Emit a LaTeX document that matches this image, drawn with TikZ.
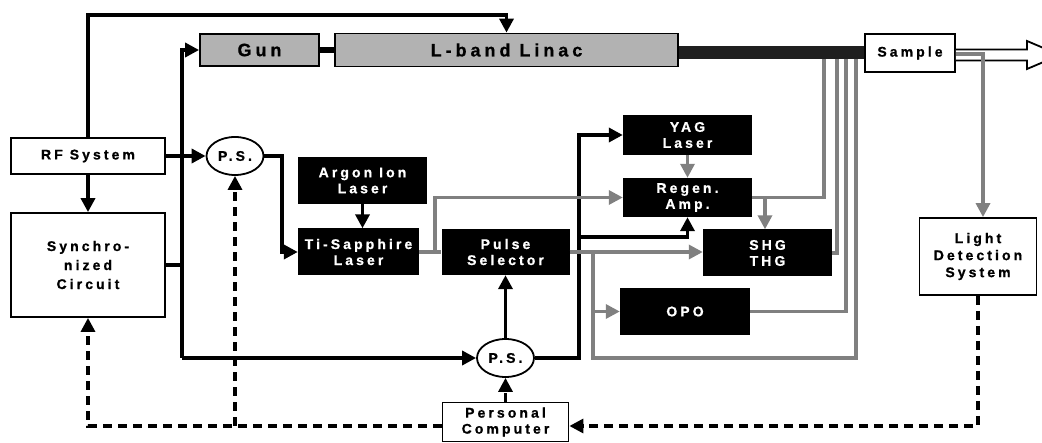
\documentclass[tikz,border=0pt]{standalone}
\usepackage{fontspec}
\setmainfont{Liberation Sans}
\newfontfamily\lblfont{Liberation Sans Bold}[LetterSpace=22, FakeBold=0.8]
\usetikzlibrary{arrows.meta,shapes.geometric,calc}
\begin{document}
\begin{tikzpicture}[x=1pt,y=-1pt,
  lbl/.style={font=\lblfont\fontsize{14}{16}\selectfont, align=center, inner sep=0pt},
  wbox/.style={lbl, draw=black, line width=1.8pt, fill=white},
  kbox/.style={lbl, fill=black, text=white},
  gbox/.style={lbl, draw=black, line width=1.8pt, fill=black!30, font=\lblfont\fontsize{18}{20}\selectfont},
  ell/.style={lbl, ellipse, draw=black, line width=1.8pt, fill=white, minimum width=57pt, minimum height=38pt},
  bl/.style={line width=3.6pt, black},
  gl/.style={line width=3.3pt, black!50},
  arr/.style={-{Triangle[length=14pt,width=14pt]}},
  dsh/.style={line width=3.2pt, black, dash pattern=on 9pt off 6pt},
]
\fill[white] (0,0) rectangle (1042,443);
\useasboundingbox (0,0) rectangle (1042,443);

% nodes
\node[gbox, minimum width=119pt, minimum height=32pt] (gun) at (259.5,50) {Gun};
\node[gbox, minimum width=343pt, minimum height=33pt] (linac) at (506.5,50) {L-band Linac};
\node[wbox, minimum width=90pt, minimum height=38pt] (sample) at (910,53) {Sample};
\node[wbox, minimum width=154pt, minimum height=36pt] (rf) at (88,156) {RF System};
\node[wbox, minimum width=154pt, minimum height=104pt, font=\lblfont\fontsize{14}{19}\selectfont] (sync) at (88,265) {Synchro-\\nized\\Circuit};
\node[ell] (ps1) at (235,156) {P.S.};
\node[kbox, minimum width=129pt, minimum height=47pt] (argon) at (362.5,180.5) {Argon Ion\\Laser};
\node[kbox, minimum width=121pt, minimum height=47pt] (ti) at (358.5,252) {Ti-Sapphire\\Laser};
\node[kbox, minimum width=128pt, minimum height=46pt] (pulse) at (505.5,252) {Pulse\\Selector};
\node[kbox, minimum width=129pt, minimum height=40pt] (yag) at (687.5,135) {YAG\\Laser};
\node[kbox, minimum width=129pt, minimum height=39pt] (regen) at (687.5,197.5) {Regen.\\Amp.};
\node[kbox, minimum width=129pt, minimum height=47pt] (shg) at (767.5,253) {SHG\\THG};
\node[kbox, minimum width=130pt, minimum height=47pt] (opo) at (685,311.5) {OPO};
\node[ell] (ps2) at (505.5,358) {P.S.};
\node[wbox, minimum width=126pt, minimum height=39pt] (pc) at (505.5,422) {Personal\\Computer};
\node[wbox, minimum width=117pt, minimum height=77pt, font=\lblfont\fontsize{14}{17}\selectfont] (ld) at (978,256.5) {Light\\Detection\\System};

% helper coordinates
\coordinate (top) at (88,15);
\coordinate (bus) at (182,0);
\coordinate (k1) at (282,0);
\coordinate (k2) at (435,0);
\coordinate (k3) at (593,358);
\coordinate (k4) at (765,0);
\coordinate (k5) at (579,0);
\coordinate (k6) at (983,0);
\coordinate (v1) at (824,55);
\coordinate (v2) at (837,55);
\coordinate (v3) at (846,55);
\coordinate (v4) at (856,55);
\coordinate (dy) at (0,426);

% black signal lines
\draw[bl,arr] (rf.north) |- (top) -| (linac.north);
\draw[bl,arr] (rf.south) -- (sync.north);
\draw[bl,arr] (rf.east) -- (ps1.west);
\draw[bl] (sync.east) -- (sync.east -| bus);
\draw[bl,arr] (bus |- ps2.west) -- (bus |- gun.west) -- (gun.west);
\draw[bl,arr] (bus |- ps2.west) -- (ps2.west);
\draw[bl,arr] (ps1.east) -- (ps1.east -| k1) |- (ti.west);
\draw[bl,arr] (argon.south) -- (argon.south |- ti.north);
\draw[bl,arr] (ps2.north) -- (pulse.south);
\draw[bl,arr] (ps2.east) -- (ps2.east -| k5) |- (yag.west);
\draw[bl,arr] (k5 |- 0,237) -| (regen.south);

% gray optical lines
\draw[gl] (ti.east) -- (pulse.west);
\draw[gl,arr] (ti.east -| k2) |- (regen.west);
\draw[gl,arr] (yag.south) -- (regen.north);
\draw[gl,arr] (pulse.east) -- (pulse.east -| shg.west);
\draw[gl] (pulse.east -| k3) -- (k3) -| (v4);
\draw[gl,arr] (k3 |- opo.west) -- (opo.west);
\draw[gl] (regen.east) -| (v1);
\draw[gl,arr] (regen.east -| k4) -- (k4 |- shg.north);
\draw[gl] (shg.east) -| (v2);
\draw[gl] (opo.east) -| (v3);

% electron beam
\draw[line width=6pt] (gun.east) -- (linac.west);
\draw[line width=13pt, black!88] (linac.east |- sample.west) -- (sample.west);

% output hollow arrow
\draw[line width=1.8pt, fill=white, line join=miter]
  (sample.east |- 0,49.5) -- (1027,49.5) -- (1027,41) -- (1060,55) -- (1027,69) -- (1027,60.5) -- (sample.east |- 0,60.5);
\draw[gl,arr] (sample.east |- 0,54) -- (k6 |- 0,54) -- (k6 |- ld.north);

% dashed control lines
\draw[dsh,arr] (pc.west |- dy) -| (sync.south);
\draw[dsh,arr] (ps1 |- dy) -- (ps1.south);
\draw[dsh,arr] (pc.north) -- (ps2.south);
\draw[dsh,arr] (ld.south) |- (pc.east |- dy);
\end{tikzpicture}
\end{document}
